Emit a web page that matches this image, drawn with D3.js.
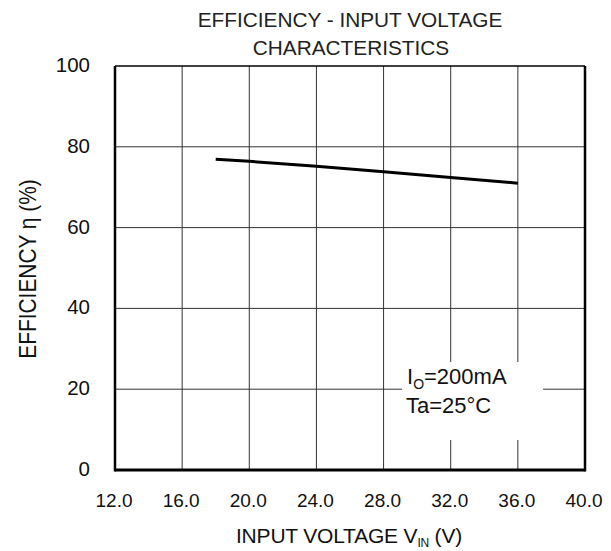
<!DOCTYPE html>
<html><head><meta charset="utf-8">
<script src="https://cdn.jsdelivr.net/npm/d3@7"></script>
<style>
body{margin:0;background:#fff;}
text{font-family:"Liberation Sans",Arial,sans-serif;fill:#111;}
</style></head>
<body><svg id="c" width="611" height="551"></svg>
<script>
const vin = [18, 20, 24, 28, 32, 36];
const eff = [76.9, 76.4, 75.2, 73.8, 72.4, 71.0];
const xTicks = [12, 16, 20, 24, 28, 32, 36, 40];
const yTicks = [0, 20, 40, 60, 80, 100];

const svg = d3.select("#c");
const m = {l:115, r:585, t:66, b:470};
const x = d3.scaleLinear().domain([12, 40]).range([m.l, m.r]);
const y = d3.scaleLinear().domain([0, 100]).range([m.b, m.t]);

// grid
const g = svg.append("g");
g.selectAll("line.v").data(xTicks.slice(1, -1)).join("line")
  .attr("x1", d => x(d)).attr("x2", d => x(d)).attr("y1", m.t).attr("y2", m.b)
  .attr("stroke", "#333").attr("stroke-width", 1);
g.selectAll("line.h").data(yTicks.slice(1, -1)).join("line")
  .attr("x1", m.l).attr("x2", m.r).attr("y1", d => y(d)).attr("y2", d => y(d))
  .attr("stroke", "#333").attr("stroke-width", 1);

// annotation box (white)
svg.append("rect").attr("x", 402).attr("y", 362).attr("width", 141).attr("height", 78).attr("fill", "#fff");
const ann = svg.append("text").attr("x", 407).attr("y", 384).style("font-size", "22px");
ann.append("tspan").text("I");
ann.append("tspan").text("O").attr("dy", 5).style("font-size", "14px");
ann.append("tspan").text("=200mA").attr("dy", -5);
svg.append("text").attr("x", 406).attr("y", 413).style("font-size", "22px").text("Ta=25°C");

// frame
svg.append("line").attr("x1", m.l).attr("x2", m.r).attr("y1", m.t).attr("y2", m.t).attr("stroke", "#000").attr("stroke-width", 1.5);
svg.append("line").attr("x1", m.l).attr("x2", m.r).attr("y1", m.b).attr("y2", m.b).attr("stroke", "#000").attr("stroke-width", 3);
svg.append("line").attr("x1", m.l).attr("x2", m.l).attr("y1", m.t).attr("y2", m.b+1.5).attr("stroke", "#000").attr("stroke-width", 2.5);
svg.append("line").attr("x1", m.r).attr("x2", m.r).attr("y1", m.t).attr("y2", m.b+1.5).attr("stroke", "#000").attr("stroke-width", 2.5);

// tick labels
svg.selectAll("text.xt").data(xTicks).join("text")
  .attr("x", d => x(d) - 1).attr("y", 507).attr("text-anchor", "middle")
  .style("font-size", "19px").text(d => d.toFixed(1));
svg.selectAll("text.yt").data(yTicks).join("text")
  .attr("x", 90).attr("y", d => y(d) + 6).attr("text-anchor", "end")
  .style("font-size", "20.5px").text(d => d);

// data line
svg.append("path").datum(vin.map((v, i) => [v, eff[i]]))
  .attr("d", d3.line().x(d => x(d[0])).y(d => y(d[1])))
  .attr("fill", "none").attr("stroke", "#000").attr("stroke-width", 3);

// titles
svg.append("text").attr("x", 350).attr("y", 27).attr("text-anchor", "middle")
  .style("font-size", "20.8px").style("fill", "#222").text("EFFICIENCY - INPUT VOLTAGE");
svg.append("text").attr("x", 351).attr("y", 55).attr("text-anchor", "middle")
  .style("font-size", "20.8px").style("fill", "#222").text("CHARACTERISTICS");

const xt = svg.append("text").attr("x", 349).attr("y", 543).attr("text-anchor", "middle")
  .style("font-size", "21px").style("letter-spacing", "-0.2px");
xt.append("tspan").text("INPUT VOLTAGE V");
xt.append("tspan").text("IN").attr("dy", 4).style("font-size", "12px");
xt.append("tspan").text(" (V)").attr("dy", -4);

svg.append("text").attr("transform", "translate(36,269) rotate(-90) scale(0.87,1)").attr("text-anchor", "middle")
  .style("font-size", "24px").text("EFFICIENCY η (%)");
</script></body></html>
